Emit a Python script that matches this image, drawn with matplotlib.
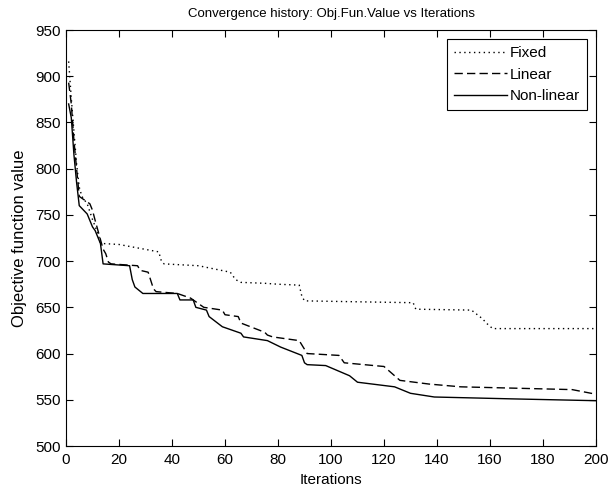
import matplotlib
matplotlib.use("Agg")
import matplotlib.pyplot as plt
from matplotlib import font_manager

# ---- data ----
fixed_x = [1, 2, 3, 4, 5, 6, 8, 10, 12, 13, 14, 20, 35, 36, 37, 50, 62, 64, 66, 75, 80, 88, 89, 90, 110, 131, 132, 153, 157, 159, 161, 200]
fixed_y = [916, 876, 840, 805, 780, 770, 762, 745, 730, 720, 719, 718, 710, 700, 697, 695, 688, 680, 677, 676, 675, 674, 662, 657, 656, 655, 648, 647, 638, 632, 627, 627]

linear_x = [1, 2, 3, 4, 5, 9, 10, 11, 14, 15, 16, 17, 27, 28, 31, 33, 34, 42, 47, 52, 59, 60, 65, 66, 75, 76, 78, 88, 91, 103, 105, 120, 126, 137, 149, 191, 200]
linear_y = [893, 870, 830, 800, 770, 762, 755, 744, 713, 708, 699, 697, 695, 690, 688, 670, 667, 665, 660, 650, 647, 642, 640, 633, 623, 620, 618, 614, 600, 598, 590, 586, 571, 567, 564, 561, 556]

nonlin_x = [1, 2, 3, 4, 5, 8, 10, 11, 13, 14, 24, 25, 26, 29, 42, 43, 48, 49, 53, 54, 59, 66, 67, 76, 81, 89, 90, 91, 98, 107, 110, 124, 130, 139, 168, 200]
nonlin_y = [870, 855, 815, 785, 760, 751, 737, 733, 719, 697, 695, 680, 672, 665, 665, 658, 658, 650, 647, 640, 629, 622, 618, 614, 607, 598, 590, 588, 587, 576, 569, 564, 557, 553, 551, 549]

series_labels = ["Fixed", "Linear", "Non-linear"]
x_ticks = list(range(0, 201, 20))
y_ticks = list(range(500, 951, 50))

title = "Convergence history: Obj.Fun.Value vs Iterations"
xlabel = "Iterations"
ylabel = "Objective function value"

# ---- font ----
names = {f.name for f in font_manager.fontManager.ttflist}
fam = "Liberation Sans Narrow" if "Liberation Sans Narrow" in names else "Liberation Sans"
plt.rcParams["font.family"] = [fam, "DejaVu Sans"]
plt.rcParams["font.size"] = 10

fig = plt.figure(figsize=(6.10, 4.93), dpi=100)
ax = fig.add_axes([66/610, 1 - 446/493, 530/610, 416/493])

ax.plot(fixed_x, fixed_y, color="black", lw=1.0, linestyle=(0, (1, 2.5)), label=series_labels[0])
ax.plot(linear_x, linear_y, color="black", lw=1.0, linestyle=(0, (6, 3)), label=series_labels[1])
ax.plot(nonlin_x, nonlin_y, color="black", lw=1.0, linestyle="-", label=series_labels[2])

ax.set_xlim(0, 200)
ax.set_ylim(500, 950)
ax.set_xticks(x_ticks)
ax.set_yticks(y_ticks)
ax.tick_params(direction="in", top=True, right=True, length=5, width=0.8, labelsize=11)
ax.tick_params(axis="x", pad=5)
ax.tick_params(axis="y", pad=4)
for s in ax.spines.values():
    s.set_linewidth(0.8)

ax.set_title(title, fontsize=9.5, pad=9)
ax.set_xlabel(xlabel, fontsize=11, labelpad=4)
ax.set_ylabel(ylabel, fontsize=12, labelpad=6)

leg = ax.legend(loc="upper right", frameon=True, fancybox=False, framealpha=1,
                edgecolor="black", handlelength=3.5, handletextpad=0.15,
                borderaxespad=0.6, labelspacing=0.5, borderpad=0.45, fontsize=11)
leg.get_frame().set_linewidth(0.8)

fig.savefig("out.png", dpi=100)
